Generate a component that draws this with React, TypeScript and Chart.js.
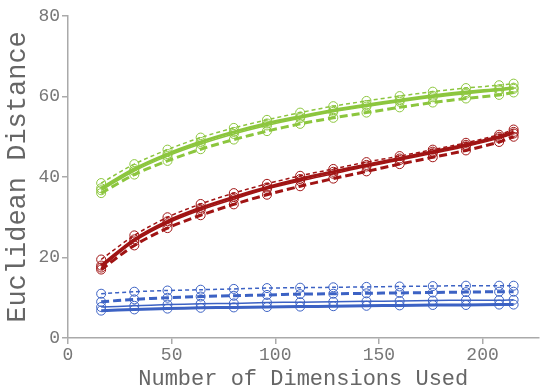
import React, { useEffect, useRef } from "react";
import { Chart, registerables } from "chart.js";

Chart.register(...registerables);

const dims = [16, 32, 48, 64, 80, 96, 112, 128, 144, 160, 176, 192, 208, 215];

const greenThinDashed = [38.5, 43.2, 46.8, 49.8, 52.2, 54.2, 56.0, 57.6, 58.9, 60.1, 61.2, 62.1, 62.8, 63.2];
const greenThickSolid = [37.2, 42.0, 45.7, 48.7, 51.2, 53.3, 55.0, 56.6, 57.9, 59.1, 60.2, 61.1, 61.8, 62.2];
const greenThinSolid = [36.7, 41.5, 45.2, 48.2, 50.7, 52.8, 54.6, 56.2, 57.5, 58.7, 59.8, 60.7, 61.5, 61.9];
const greenThickDashed = [36.0, 40.6, 44.0, 46.9, 49.3, 51.4, 53.2, 54.7, 56.0, 57.3, 58.5, 59.5, 60.4, 61.0];

const redThinDashed = [19.5, 25.5, 30.0, 33.3, 36.0, 38.3, 40.3, 42.0, 43.7, 45.2, 46.8, 48.5, 50.5, 51.8];
const redThickSolid = [18.0, 24.5, 29.0, 32.3, 35.0, 37.4, 39.5, 41.3, 43.0, 44.6, 46.3, 48.0, 50.0, 51.2];
const redThinSolid = [17.5, 24.0, 28.5, 31.8, 34.5, 37.0, 39.0, 40.8, 42.6, 44.2, 45.9, 47.6, 49.6, 50.8];
const redThickDashed = [17.0, 23.0, 27.3, 30.5, 33.2, 35.6, 37.7, 39.6, 41.4, 43.2, 44.9, 46.6, 48.7, 50.0];

const blueThinDashed = [11.0, 11.5, 11.8, 12.0, 12.2, 12.4, 12.5, 12.6, 12.7, 12.8, 12.9, 13.0, 13.0, 13.0];
const blueThickDashed = [9.0, 9.6, 10.0, 10.3, 10.5, 10.7, 10.9, 11.0, 11.1, 11.2, 11.3, 11.4, 11.5, 11.5];
const blueThinSolid = [7.7, 8.0, 8.3, 8.5, 8.6, 8.8, 8.9, 9.0, 9.1, 9.2, 9.3, 9.4, 9.4, 9.5];
const blueThickSolid = [6.8, 7.1, 7.3, 7.5, 7.6, 7.7, 7.8, 7.9, 8.0, 8.1, 8.2, 8.2, 8.3, 8.3];

const xTicks = [0, 50, 100, 150, 200];
const yTicks = [0, 20, 40, 60, 80];

const GREEN = "#8cc63e";
const RED = "#a01414";
const BLUE = "#3c62c4";

const FONT = "'Liberation Mono', 'Courier New', monospace";

export default function App() {
  const ref = useRef<HTMLCanvasElement | null>(null);
  useEffect(() => {
    document.body.style.margin = "0";
    const canvas = ref.current;
    if (!canvas) return;
    const mk = (label: string, vals: number[], color: string, thick: boolean, dashed: boolean) => ({
      label,
      data: vals.map((v, i) => ({ x: dims[i], y: v })),
      borderColor: color,
      backgroundColor: "rgba(0,0,0,0)",
      borderWidth: thick ? 3 : 1.5,
      borderDash: dashed ? (thick ? [8, 4] : [4, 3]) : [],
      pointRadius: 4.5,
      pointBorderWidth: 1,
      pointBorderColor: color,
      pointBackgroundColor: "rgba(0,0,0,0)",
      tension: 0.3,
      fill: false,
    });
    const chart = new Chart(canvas, {
      type: "line",
      data: {
        datasets: [
          mk("g1", greenThinDashed, GREEN, false, true),
          mk("g2", greenThickSolid, GREEN, true, false),
          mk("g3", greenThinSolid, GREEN, false, false),
          mk("g4", greenThickDashed, GREEN, true, true),
          mk("r1", redThinDashed, RED, false, true),
          mk("r2", redThickSolid, RED, true, false),
          mk("r3", redThinSolid, RED, false, false),
          mk("r4", redThickDashed, RED, true, true),
          mk("b1", blueThinDashed, BLUE, false, true),
          mk("b2", blueThickDashed, BLUE, true, true),
          mk("b3", blueThinSolid, BLUE, false, false),
          mk("b4", blueThickSolid, BLUE, true, false),
        ],
      },
      options: {
        animation: false,
        responsive: false,
        maintainAspectRatio: false,
        layout: { padding: { top: 16, right: 3, left: 2, bottom: 0 } },
        plugins: { legend: { display: false }, tooltip: { enabled: false } },
        scales: {
          x: {
            type: "linear",
            min: 0,
            max: 227,
            afterBuildTicks: (axis: any) => {
              axis.ticks = xTicks.map((v) => ({ value: v }));
            },
            ticks: { font: { family: FONT, size: 18 }, color: "#777", padding: 0, maxRotation: 0 },
            grid: { drawOnChartArea: false, drawTicks: true, tickLength: 6, color: "#aaa", lineWidth: 1.5 },
            border: { color: "#aaa", width: 1.5 },
            title: { display: true, text: "Number of Dimensions Used", font: { family: FONT, size: 22 }, color: "#666", padding: { top: 0, bottom: 0 } },
          },
          y: {
            type: "linear",
            min: 0,
            max: 80,
            afterBuildTicks: (axis: any) => {
              axis.ticks = yTicks.map((v) => ({ value: v }));
            },
            ticks: { font: { family: FONT, size: 18 }, color: "#777", padding: 2 },
            grid: { drawOnChartArea: false, drawTicks: true, tickLength: 6, color: "#aaa", lineWidth: 1.5 },
            border: { color: "#aaa", width: 1.5 },
            title: { display: true, text: "Euclidean Distance", font: { family: FONT, size: 27 }, color: "#666", padding: { top: 0, bottom: 2 } },
          },
        },
      },
    });
    return () => chart.destroy();
  }, []);
  return <canvas ref={ref} width={544} height={392} style={{ display: "block", width: 544, height: 392 }} />;
}
